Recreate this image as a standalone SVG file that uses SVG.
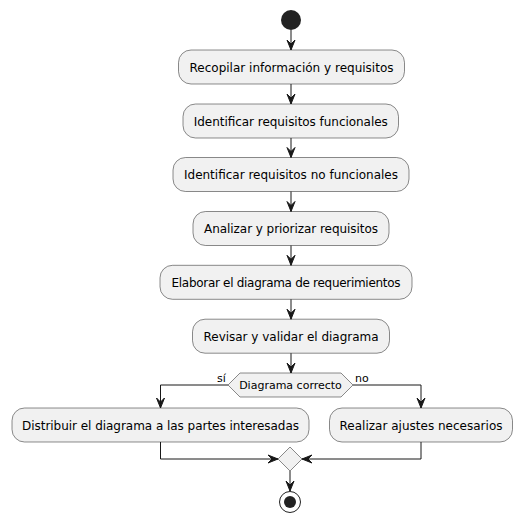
<svg xmlns="http://www.w3.org/2000/svg" width="523" height="523" viewBox="0 0 523 523">
<style>
.box{fill:#F1F1F1;stroke:#181818;stroke-width:0.5}
.t{font-family:"DejaVu Sans",sans-serif;font-size:12px;fill:#000}
.lbl{font-family:"DejaVu Sans",sans-serif;font-size:11px;fill:#000}
.ln{fill:none;stroke:#181818;stroke-width:1}
.ah{fill:#181818;stroke:#181818;stroke-width:1}
</style>
<rect width="523" height="523" fill="#FFFFFF"/>
<g id="start"><circle cx="291" cy="20" r="10" fill="#222222"/></g>
<g id="n1"><rect class="box" x="178.5" y="50" width="226" height="34" rx="12.5"/><text class="t" x="291.5" y="71.5" text-anchor="middle" textLength="204">Recopilar información y requisitos</text></g>
<g id="n2"><rect class="box" x="183" y="104" width="215.5" height="34" rx="12.5"/><text class="t" x="290.8" y="125.5" text-anchor="middle" textLength="194">Identificar requisitos funcionales</text></g>
<g id="n3"><rect class="box" x="173" y="157.5" width="236" height="34" rx="12.5"/><text class="t" x="291" y="179" text-anchor="middle" textLength="214">Identificar requisitos no funcionales</text></g>
<g id="n4"><rect class="box" x="193" y="211.5" width="196" height="34" rx="12.5"/><text class="t" x="291" y="233" text-anchor="middle" textLength="174">Analizar y priorizar requisitos</text></g>
<g id="n5"><rect class="box" x="160" y="265.3" width="252" height="34" rx="12.5"/><text class="t" x="286" y="286.8" text-anchor="middle" textLength="229">Elaborar el diagrama de requerimientos</text></g>
<g id="n6"><rect class="box" x="192.5" y="319.2" width="197" height="34" rx="12.5"/><text class="t" x="291" y="340.7" text-anchor="middle" textLength="175">Revisar y validar el diagrama</text></g>
<g id="d1"><polygon class="box" points="228,385 240,373 341,373 353,385 341,397 240,397"/><text class="lbl" x="290.5" y="389" text-anchor="middle">Diagrama correcto</text></g>
<g id="n7"><rect class="box" x="12" y="408" width="297" height="34" rx="12.5"/><text class="t" x="160.5" y="429.5" text-anchor="middle" textLength="277">Distribuir el diagrama a las partes interesadas</text></g>
<g id="n8"><rect class="box" x="329.5" y="408" width="183" height="34" rx="12.5"/><text class="t" x="421" y="429.5" text-anchor="middle" textLength="163">Realizar ajustes necesarios</text></g>
<g id="m1"><polygon class="box" points="290,447 302,459 290,471 278,459"/></g>
<g id="end"><circle cx="290" cy="502" r="10.5" fill="none" stroke="#222222" stroke-width="1"/><circle cx="290" cy="502" r="6" fill="#222222"/></g>
<g id="connectors">
<line class="ln" x1="291" y1="30" x2="291" y2="50"/><polygon class="ah" points="287,40 291,50 295,40 291,44"/>
<line class="ln" x1="291" y1="84" x2="291" y2="104"/><polygon class="ah" points="287,94 291,104 295,94 291,98"/>
<line class="ln" x1="291" y1="138" x2="291" y2="157.5"/><polygon class="ah" points="287,147.5 291,157.5 295,147.5 291,151.5"/>
<line class="ln" x1="291" y1="191.5" x2="291" y2="211.5"/><polygon class="ah" points="287,201.5 291,211.5 295,201.5 291,205.5"/>
<line class="ln" x1="291" y1="245.5" x2="291" y2="265.3"/><polygon class="ah" points="287,255.3 291,265.3 295,255.3 291,259.3"/>
<line class="ln" x1="291" y1="299.3" x2="291" y2="319.2"/><polygon class="ah" points="287,309.2 291,319.2 295,309.2 291,313.2"/>
<line class="ln" x1="291" y1="353.2" x2="291" y2="373"/><polygon class="ah" points="287,363 291,373 295,363 291,367"/>
<polyline class="ln" points="228,385 160.5,385 160.5,408"/><polygon class="ah" points="156.5,398 160.5,408 164.5,398 160.5,402"/>
<polyline class="ln" points="353,385 421,385 421,408"/><polygon class="ah" points="417,398 421,408 425,398 421,402"/>
<text class="lbl" x="217" y="382">sí</text>
<text class="lbl" x="355" y="382">no</text>
<polyline class="ln" points="160.5,442 160.5,459 278,459"/><polygon class="ah" points="268,455 278,459 268,463 272,459"/>
<polyline class="ln" points="421,442 421,459 302,459"/><polygon class="ah" points="312,455 302,459 312,463 308,459"/>
<line class="ln" x1="290" y1="471" x2="290" y2="491"/><polygon class="ah" points="286,481 290,491 294,481 290,485"/>
</g>
</svg>
